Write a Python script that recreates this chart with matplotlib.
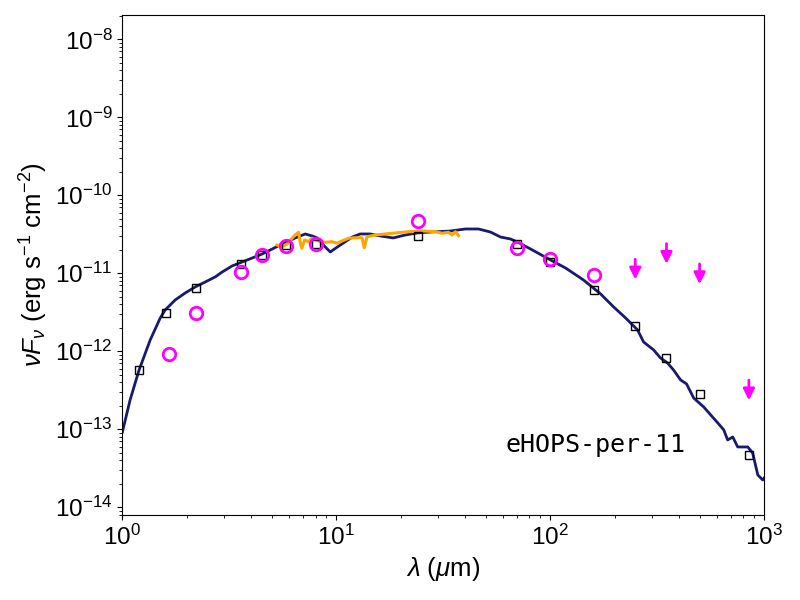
import numpy as np
import matplotlib

matplotlib.use("Agg")
import matplotlib.pyplot as plt

plt.rcParams["font.family"] = ["Liberation Sans", "DejaVu Sans"]
plt.rcParams["mathtext.fontset"] = "custom"
plt.rcParams["mathtext.rm"] = "Liberation Sans"
plt.rcParams["mathtext.it"] = "Liberation Sans:italic"

# ------------------------------------------------------------
# data (log10 of lambda [um] and nuFnu)
# ------------------------------------------------------------
model_loglam = [0.0, 0.036, 0.078, 0.130, 0.177, 0.200, 0.247, 0.294, 0.340,
                0.387, 0.434, 0.467, 0.513, 0.560, 0.607, 0.654, 0.701, 0.747,
                0.808, 0.855, 0.888, 0.911, 0.944, 0.972, 1.005, 1.033, 1.075,
                1.112, 1.159, 1.206, 1.238, 1.266, 1.323, 1.379, 1.440, 1.534,
                1.604, 1.665, 1.721, 1.768, 1.814, 1.847, 1.908, 2.002, 2.072,
                2.156, 2.236, 2.297, 2.353, 2.409, 2.437, 2.484, 2.516, 2.549,
                2.577, 2.610, 2.638, 2.671, 2.718, 2.751, 2.784, 2.812, 2.830,
                2.854, 2.877, 2.924, 2.947, 2.971, 2.994, 3.008]
model_logf = [-13.035, -12.624, -12.240, -11.855, -11.573, -11.470, -11.342,
              -11.252, -11.176, -11.112, -11.047, -10.983, -10.906, -10.855,
              -10.804, -10.752, -10.688, -10.624, -10.547, -10.496, -10.522,
              -10.547, -10.650, -10.727, -10.663, -10.612, -10.535, -10.496,
              -10.496, -10.522, -10.535, -10.547, -10.509, -10.483, -10.471,
              -10.458, -10.432, -10.432, -10.471, -10.535, -10.560, -10.599,
              -10.688, -10.830, -10.932, -11.086, -11.265, -11.432, -11.573,
              -11.727, -11.881, -11.983, -12.086, -12.150, -12.240, -12.368,
              -12.419, -12.599, -12.714, -12.817, -12.919, -13.009, -13.137,
              -13.099, -13.227, -13.227, -13.304, -13.586, -13.650, -13.599]

spec_loglam = [0.7225, 0.746, 0.769, 0.793, 0.808, 0.824, 0.832, 0.839, 0.852,
               0.870, 0.886, 0.917, 0.949, 0.980, 1.003, 1.027, 1.058, 1.089,
               1.120, 1.131, 1.144, 1.183, 1.261, 1.338, 1.416, 1.463, 1.495,
               1.525, 1.541, 1.557, 1.572]
spec_logf = [-10.637, -10.659, -10.628, -10.551, -10.509, -10.474, -10.615,
             -10.679, -10.573, -10.595, -10.551, -10.586, -10.603, -10.595,
             -10.615, -10.586, -10.551, -10.544, -10.544, -10.672, -10.531,
             -10.509, -10.487, -10.467, -10.458, -10.467, -10.487, -10.474,
             -10.509, -10.467, -10.518]

# model photometry (squares)
sq_lam = [1.2, 1.6, 2.2, 3.6, 4.5, 5.8, 8.0, 24, 70, 100, 160, 250, 350, 500, 850]
sq_logf = [-12.24, -11.51, -11.19, -10.88, -10.77, -10.64, -10.63, -10.52,
           -10.62, -10.86, -11.21, -11.68, -12.09, -12.55, -13.33]

# observed photometry (circles)
obs_lam = [1.65, 2.2, 3.6, 4.5, 5.8, 8.0, 24, 70, 100, 160]
obs_logf = [-12.03, -11.51, -10.98, -10.77, -10.65, -10.62, -10.33,
            -10.68, -10.82, -11.02]

# upper limits
ul_lam = [250, 350, 500, 850]
ul_logf = [-10.82, -10.62, -10.88, -12.37]

source_name = "eHOPS-per-11"

# ------------------------------------------------------------
# plot
# ------------------------------------------------------------
fig, ax = plt.subplots(figsize=(8, 6), dpi=100)
fig.subplots_adjust(left=0.153, right=0.955, bottom=0.142, top=0.975)

ax.plot(10 ** np.array(model_loglam), 10 ** np.array(model_logf),
        color="#191970", lw=2, zorder=2)
ax.plot(10 ** np.array(spec_loglam), 10 ** np.array(spec_logf),
        color="orange", lw=2.2, zorder=3)
ax.plot(sq_lam, 10 ** np.array(sq_logf), ls="none", marker="s", ms=6,
        mfc="none", mec="black", mew=1, zorder=4)
ax.plot(obs_lam, 10 ** np.array(obs_logf), ls="none", marker="o", ms=9,
        mfc="none", mec="magenta", mew=2, zorder=4)

for lam, lf in zip(ul_lam, ul_logf):
    ax.annotate("", xy=(lam, 10 ** lf * 0.55), xytext=(lam, 10 ** lf),
                arrowprops=dict(arrowstyle="-|>", color="magenta", lw=2,
                                mutation_scale=17, shrinkA=0, shrinkB=0))

ax.text(0.597, 0.125, source_name, transform=ax.transAxes, fontsize=18,
        family="DejaVu Sans Mono", ha="left", va="baseline")

ax.set_xscale("log")
ax.set_yscale("log")
ax.set_xlim(1, 1000)
ax.set_ylim(8e-15, 2.05e-8)
ax.tick_params(labelsize=17.5)
ax.set_xlabel(r"$\lambda$ ($\mu$m)", fontsize=18.5)
ax.set_ylabel(r"$\nu F_\nu$ (erg s$^{-1}$ cm$^{-2}$)", fontsize=18.5)

plt.savefig("out.png", dpi=100)
